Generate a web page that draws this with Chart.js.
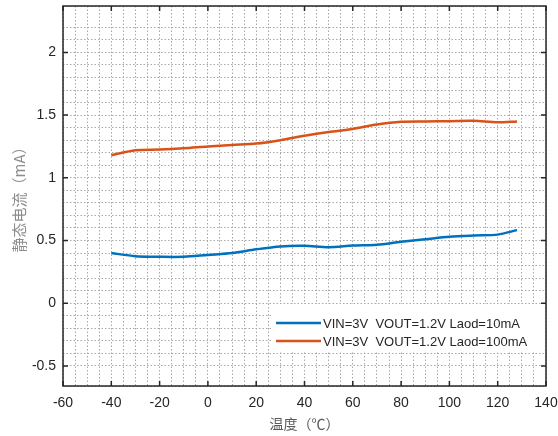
<!DOCTYPE html>
<html>
<head>
<meta charset="utf-8">
<script src="https://cdn.jsdelivr.net/npm/chart.js@4"></script>
<style>
  body { margin: 0; background: #fff; }
  #wrap { width: 558px; height: 436px; }
</style>
</head>
<body>
<div id="wrap"><canvas id="chart" width="558" height="436"></canvas></div>
<script>
// temperature points (°C)
const temps = [-40, -30, -20, -10, 0, 10, 20, 30, 40, 50, 60, 70, 80, 90, 100, 110, 120, 128];
// quiescent current (mA)
const load10mA = [0.40, 0.375, 0.37, 0.37, 0.385, 0.40, 0.43, 0.453, 0.458, 0.447, 0.46, 0.467, 0.49, 0.51, 0.53, 0.54, 0.547, 0.583];
const load100mA = [1.18, 1.22, 1.225, 1.235, 1.25, 1.262, 1.273, 1.30, 1.335, 1.365, 1.39, 1.425, 1.447, 1.45, 1.452, 1.455, 1.443, 1.45];
const seriesNames = ["VIN=3V  VOUT=1.2V Laod=10mA", "VIN=3V  VOUT=1.2V Laod=100mA"];
const xTickLabels = [-60, -40, -20, 0, 20, 40, 60, 80, 100, 120, 140];
const yTickLabels = [-0.5, 0, 0.5, 1, 1.5, 2];

const toPoints = arr => arr.map((v, i) => ({ x: temps[i], y: v }));
const axisColor = "#262626";

// box, inner tick marks and legend
const framePlugin = {
  id: "frame",
  afterDraw(c) {
    const ctx = c.ctx, a = c.chartArea, xs = c.scales.x, ys = c.scales.y;
    ctx.save();
    ctx.strokeStyle = axisColor;
    ctx.lineWidth = 1.5;
    ctx.beginPath();
    xTickLabels.forEach(v => {
      const px = xs.getPixelForValue(v);
      ctx.moveTo(px, a.bottom); ctx.lineTo(px, a.bottom - 5);
      ctx.moveTo(px, a.top); ctx.lineTo(px, a.top + 5);
    });
    yTickLabels.forEach(v => {
      const py = ys.getPixelForValue(v);
      ctx.moveTo(a.left, py); ctx.lineTo(a.left + 5, py);
      ctx.moveTo(a.right, py); ctx.lineTo(a.right - 5, py);
    });
    ctx.stroke();

    // legend
    ctx.fillStyle = "#fff";
    ctx.fillRect(272, 304, a.right - 272, 48);
    ctx.font = "13px 'Liberation Sans', Arial, sans-serif";
    ctx.textBaseline = "middle";
    c.data.datasets.forEach((ds, i) => {
      const y = 323 + i * 18;
      ctx.strokeStyle = ds.borderColor;
      ctx.lineWidth = 2.5;
      ctx.beginPath();
      ctx.moveTo(276, y); ctx.lineTo(321, y);
      ctx.stroke();
      ctx.fillStyle = axisColor;
      ctx.fillText(ds.label, 323, y + 1);
    });

    ctx.strokeStyle = axisColor;
    ctx.lineWidth = 1.5;
    ctx.strokeRect(a.left, a.top, a.right - a.left, a.bottom - a.top);
    ctx.restore();
  }
};

const isMajor = (v, step) => Math.abs(v / step - Math.round(v / step)) < 1e-6;

new Chart(document.getElementById("chart"), {
  type: "line",
  data: {
    datasets: [
      { label: seriesNames[0], data: toPoints(load10mA), borderColor: "#0072BD", borderWidth: 2.5, pointRadius: 0, tension: 0.3 },
      { label: seriesNames[1], data: toPoints(load100mA), borderColor: "#D95319", borderWidth: 2.5, pointRadius: 0, tension: 0.3 }
    ]
  },
  options: {
    responsive: false,
    animation: false,
    layout: { padding: { left: 0, top: 6, right: 12, bottom: 0 } },
    plugins: { legend: { display: false }, tooltip: { enabled: false } },
    scales: {
      x: {
        type: "linear",
        min: -60, max: 140,
        afterFit: s => { s.height = 50; s.paddingLeft = 0; s.paddingRight = 0; },
        border: { display: false, dash: [1.5, 2] },
        grid: { color: "#a8a8a8", lineWidth: 1, drawTicks: false },
        ticks: {
          stepSize: 5, autoSkip: false, maxRotation: 0, padding: 9,
          color: axisColor, font: { family: "'Liberation Sans', Arial", size: 14 },
          callback: v => isMajor(v, 20) ? String(v) : ""
        },
        title: { display: true, text: "温度（℃）", color: "#595959", padding: { top: 2 },
                 font: { family: "'Noto Sans CJK SC', sans-serif", size: 14 } }
      },
      y: {
        min: -0.66, max: 2.37,
        afterFit: s => { s.width = 63; s.paddingTop = 0; s.paddingBottom = 0; },
        border: { display: false, dash: [1.5, 2] },
        grid: { color: "#a8a8a8", lineWidth: 1, drawTicks: false },
        ticks: {
          stepSize: 0.1, autoSkip: false, padding: 7,
          color: axisColor, font: { family: "'Liberation Sans', Arial", size: 14 },
          callback: v => isMajor(v, 0.5) ? String(Math.round(v * 10) / 10) : ""
        },
        title: { display: true, text: "静态电流（mA）", color: "#8c8c8c", padding: { top: 10 },
                 font: { family: "'Noto Sans CJK SC', sans-serif", size: 15 } }
      }
    }
  },
  plugins: [framePlugin]
});
</script>
</body>
</html>
